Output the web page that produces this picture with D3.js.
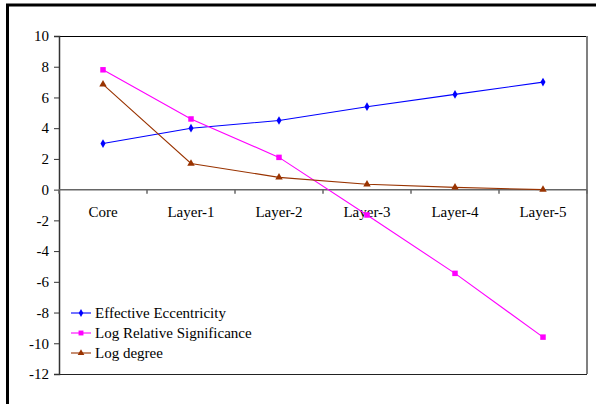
<!DOCTYPE html>
<html><head><meta charset="utf-8">
<script src="https://cdn.jsdelivr.net/npm/d3@7"></script>
<style>body{margin:0;background:#fff}svg{display:block}text{font-family:"Liberation Serif","Times New Roman",serif}</style>
</head><body><div id="c"></div>
<script>
const categories = ["Core","Layer-1","Layer-2","Layer-3","Layer-4","Layer-5"];
const effEcc = [3.0, 4.0, 4.5, 5.4, 6.2, 7.0];
const logRelSig = [7.8, 4.6, 2.1, -1.65, -5.45, -9.6];
const logDegree = [6.85, 1.7, 0.8, 0.35, 0.15, 0.0];
const yTicks = [10,8,6,4,2,0,-2,-4,-6,-8,-10,-12];
const seriesNames = ["Effective Eccentricity","Log Relative Significance","Log degree"];

const W=596,H=404;
const svg=d3.select("#c").append("svg").attr("width",W).attr("height",H);
const font="Liberation Serif, Times New Roman, serif";
const FS=15;
// outer frame
svg.append("line").attr("x1",6).attr("x2",W).attr("y1",5).attr("y2",5).attr("stroke","#000").attr("stroke-width",3);
svg.append("line").attr("x1",7.5).attr("x2",7.5).attr("y1",4).attr("y2",H).attr("stroke","#000").attr("stroke-width",3);

const L=59,R=587,T=36,B=374;
const x=d3.scaleBand().domain(categories).range([L,R]);
const y=d3.scaleLinear().domain([-12,10]).range([B,T]);

// plot area border
svg.append("line").attr("x1",L).attr("x2",R).attr("y1",T+0.5).attr("y2",T+0.5).attr("stroke","#000");
svg.append("line").attr("x1",L).attr("x2",R).attr("y1",B+0.5).attr("y2",B+0.5).attr("stroke","#222");
svg.append("line").attr("x1",R).attr("x2",R).attr("y1",T).attr("y2",B).attr("stroke","#808080").attr("stroke-width",2);

// y axis
const ya=svg.append("g").attr("transform",`translate(${L},0)`)
  .call(d3.axisLeft(y).tickValues(yTicks).tickSize(5).tickPadding(5).tickFormat(d=>String(d)));
ya.attr("font-family",font).attr("font-size",FS);
ya.select(".domain").attr("stroke","#333").attr("stroke-width",1.5);
ya.selectAll(".tick line").attr("stroke","#333");
ya.selectAll("text").style("font-size",FS+"px").attr("fill","#000");

// x axis at y=0
const y0=y(0);
const xa=svg.append("g").attr("transform",`translate(0,${y0})`);
xa.append("line").attr("x1",L).attr("x2",R).attr("stroke","#666").attr("stroke-width",1.5);
const bounds=categories.map(c=>x(c)).concat([R]);
xa.selectAll(".tk").data(bounds).enter().append("line")
  .attr("x1",d=>d).attr("x2",d=>d).attr("y1",0).attr("y2",4).attr("stroke","#666").attr("stroke-width",1.5);
xa.selectAll(".lb").data(categories).enter().append("text")
  .attr("x",d=>x(d)+x.bandwidth()/2).attr("y",27).attr("text-anchor","middle")
  .style("font-size",FS+"px").attr("fill","#000").text(d=>d);

const series=[
  {name:seriesNames[0],vals:effEcc,color:"#0000FF",sym:d3.symbolDiamond,size:22},
  {name:seriesNames[1],vals:logRelSig,color:"#FF00FF",sym:d3.symbolSquare,size:30},
  {name:seriesNames[2],vals:logDegree,color:"#993300",sym:d3.symbolTriangle,size:24}
];
const line=d3.line().x((d,i)=>x(categories[i])+x.bandwidth()/2).y(d=>y(d));
series.forEach(s=>{
  svg.append("path").datum(s.vals).attr("d",line).attr("fill","none").attr("stroke",s.color).attr("stroke-width",1.1);
  svg.selectAll(null).data(s.vals).enter().append("path")
    .attr("d",d3.symbol(s.sym,s.size))
    .attr("transform",(d,i)=>`translate(${x(categories[i])+x.bandwidth()/2},${y(d)})`)
    .attr("fill",s.color);
});

// legend
const lg=svg.append("g");
series.forEach((s,i)=>{
  const yy=313+i*20;
  lg.append("line").attr("x1",71).attr("x2",91).attr("y1",yy).attr("y2",yy).attr("stroke",s.color).attr("stroke-width",1.1);
  lg.append("path").attr("d",d3.symbol(s.sym,s.size*0.8)).attr("transform",`translate(81,${yy})`).attr("fill",s.color);
  lg.append("text").attr("x",95).attr("y",yy+5).style("font-size",FS+"px").attr("fill","#000").text(s.name);
});
</script></body></html>
